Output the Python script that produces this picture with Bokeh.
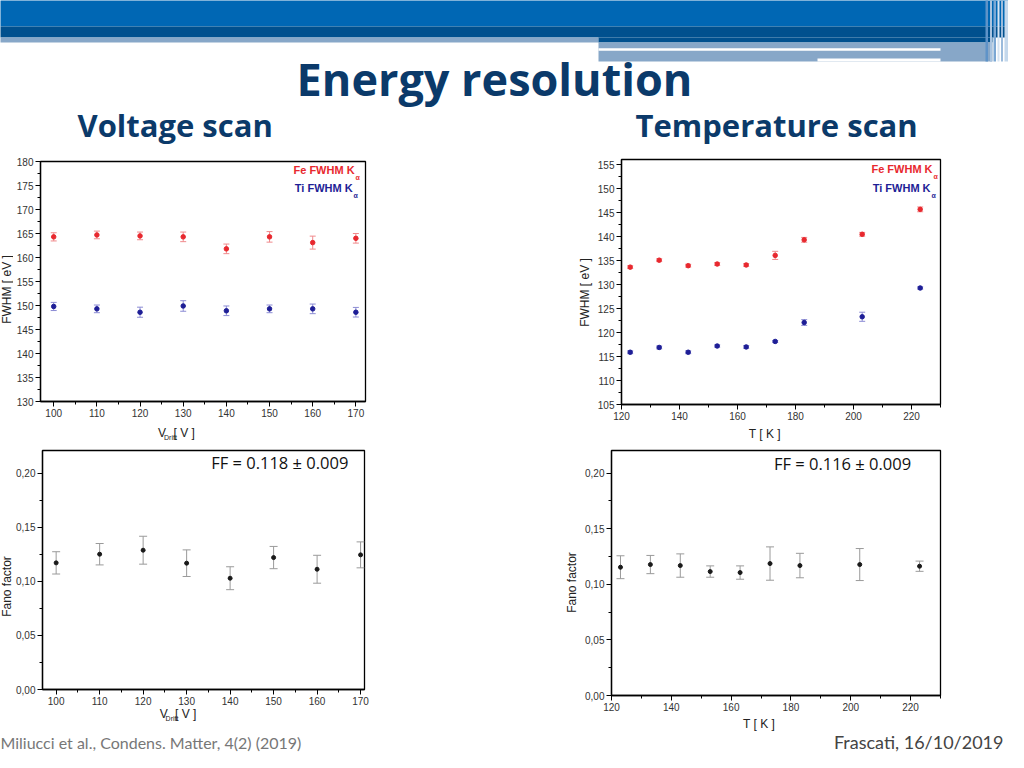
from math import pi
from bokeh.plotting import figure
from bokeh.models import (Range1d, FixedTicker, CustomJSTickFormatter, Label,
                          Whisker, TeeHead, ColumnDataSource)
from bokeh.layouts import column, row
from bokeh.embed import file_html
from bokeh.resources import INLINE
from bokeh.core.properties import value

# ---------------- data ----------------
voltage = [100, 110, 120, 130, 140, 150, 160, 170]
fe_fwhm_v = [164.3, 164.7, 164.5, 164.3, 161.8, 164.3, 163.1, 164.0]
fe_fwhm_v_err = [0.85, 0.8, 0.8, 1.0, 1.0, 1.1, 1.35, 1.0]
ti_fwhm_v = [149.8, 149.3, 148.6, 149.9, 148.9, 149.3, 149.3, 148.6]
ti_fwhm_v_err = [0.85, 0.8, 1.05, 1.1, 1.0, 0.8, 1.0, 1.0]

temperature = [123, 133, 143, 153, 163, 173, 183, 203, 223]
fe_fwhm_t = [133.65, 135.1, 133.95, 134.3, 134.1, 136.1, 139.35, 140.5, 145.7]
fe_fwhm_t_err = [0.3, 0.3, 0.3, 0.3, 0.3, 0.85, 0.5, 0.4, 0.5]
ti_fwhm_t = [115.9, 116.9, 115.9, 117.2, 117.0, 118.15, 122.1, 123.3, 129.3]
ti_fwhm_t_err = [0.3, 0.3, 0.3, 0.25, 0.3, 0.2, 0.6, 0.95, 0.25]

fano_v = [0.1171, 0.1251, 0.1288, 0.1168, 0.1029, 0.1220, 0.1112, 0.1245]
fano_v_err = [0.0103, 0.0099, 0.0129, 0.0123, 0.0106, 0.0103, 0.0129, 0.0120]
fano_t = [0.1154, 0.1178, 0.1169, 0.1115, 0.1106, 0.1187, 0.1169, 0.1178, 0.1163]
fano_t_err = [0.0103, 0.0082, 0.0105, 0.0051, 0.0060, 0.0150, 0.0110, 0.0144, 0.0046]

volt_ticks = [100, 110, 120, 130, 140, 150, 160, 170]
volt_minor = [95, 105, 115, 125, 135, 145, 155, 165]
temp_ticks = [120, 140, 160, 180, 200, 220]
temp_minor = [130, 150, 170, 190, 210, 230]
fwhm_v_ticks = [130, 135, 140, 145, 150, 155, 160, 165, 170, 175, 180]
fwhm_v_minor = [132.5, 137.5, 142.5, 147.5, 152.5, 157.5, 162.5, 167.5, 172.5, 177.5]
fwhm_t_ticks = [105, 110, 115, 120, 125, 130, 135, 140, 145, 150, 155]
fwhm_t_minor = [107.5, 112.5, 117.5, 122.5, 127.5, 132.5, 137.5, 142.5, 147.5, 152.5]
fano_ticks = [0.0, 0.05, 0.10, 0.15, 0.20]
fano_minor = [0.025, 0.075, 0.125, 0.175]

title_text = "Energy resolution"
subtitle_left = "Voltage scan"
subtitle_right = "Temperature scan"
fwhm_label = "FWHM [ eV ]"
fano_label = "Fano factor"
temp_label = "T [ K ]"
ff_v_text = "FF = 0.118 \u00b1 0.009"
ff_t_text = "FF = 0.116 \u00b1 0.009"
footer_left = "Miliucci et al., Condens. Matter, 4(2) (2019)"
footer_right = "Frascati, 16/10/2019"

FE_COLOR = "#e8282e"
FE_ERR = "#f08a8c"
TI_COLOR = "#1e1e96"
TI_ERR = "#8c8cd4"
TITLE_COLOR = "#0b3a6a"
AX_FONT = "Liberation Sans"
LBL_COLOR = "#222222"


class Panel:
    """A plot panel; positions given in slide (reference) pixel coordinates."""

    def __init__(self, width, height, origin, frame, xr, yr):
        ox, oy = origin
        self.L, self.T, self.R, self.B = frame
        self.xr, self.yr = xr, yr
        p = figure(width=width, height=height,
                   x_range=Range1d(*xr), y_range=Range1d(*yr),
                   output_backend="svg", toolbar_location=None,
                   min_border_left=self.L - ox, min_border_right=ox + width - self.R,
                   min_border_top=self.T - oy, min_border_bottom=oy + height - self.B)
        p.grid.visible = False
        p.outline_line_color = "black"
        p.outline_line_width = 1.3
        p.outline_line_alpha = 1.0
        p.background_fill_color = "white"
        p.border_fill_color = "white"
        for ax in (p.xaxis[0], p.yaxis[0]):
            ax.axis_line_color = "black"
            ax.axis_line_width = 1.3
            ax.major_tick_out = 5
            ax.major_tick_in = 0
            ax.minor_tick_out = 3
            ax.minor_tick_in = 0
            ax.major_tick_line_color = "black"
            ax.minor_tick_line_color = "black"
            ax.major_label_text_font = AX_FONT
            ax.major_label_text_font_size = "10px"
            ax.major_label_text_color = "#333333"
            ax.major_label_standoff = 2
        self.p = p

    def to_data(self, rx, ry):
        x = self.xr[0] + (rx - self.L) / (self.R - self.L) * (self.xr[1] - self.xr[0])
        y = self.yr[1] - (ry - self.T) / (self.B - self.T) * (self.yr[1] - self.yr[0])
        return x, y

    def label(self, rx, ry, text, size, color=LBL_COLOR, bold=False, align="left",
              font=AX_FONT):
        x, y = self.to_data(rx, ry)
        self.p.add_layout(Label(x=x, y=y, text=text, text_font=font,
                                text_font_size=f"{size}px", text_color=color,
                                text_font_style="bold" if bold else "normal",
                                text_align=align, text_baseline="middle"))

    def series(self, xs, ys, errs, color, err_color, size=4.5, cap=6):
        up = [y + e for y, e in zip(ys, errs)]
        lo = [y - e for y, e in zip(ys, errs)]
        src = ColumnDataSource(dict(x=xs, y=ys, upper=up, lower=lo))
        w = Whisker(source=src, base="x", upper="upper", lower="lower",
                    line_color=err_color, line_width=1,
                    upper_head=TeeHead(size=cap, line_color=err_color, line_width=1),
                    lower_head=TeeHead(size=cap, line_color=err_color, line_width=1))
        self.p.add_layout(w)
        self.p.scatter("x", "y", source=src, marker="circle", size=size,
                       fill_color=color, line_color=color)

    def ticks(self, xt, xm, yt, ym):
        self.p.xaxis.ticker = FixedTicker(ticks=xt, minor_ticks=xm)
        self.p.yaxis.ticker = FixedTicker(ticks=yt, minor_ticks=ym)

    def legend_entry(self, rx, ry, text, color):
        self.label(rx, ry, text, 11, color=color, bold=True, align="right")
        self.label(rx + 1, ry + 7.5, "\u03b1", 7, color=color, bold=True)


def strip(x0, x1, y0, y1):
    """A blank canvas whose data coordinates are slide pixels."""
    f = figure(width=x1 - x0, height=y1 - y0, x_range=Range1d(x0, x1),
               y_range=Range1d(y1, y0), output_backend="svg", toolbar_location=None,
               x_axis_type=None, y_axis_type=None, min_border=0)
    f.grid.visible = False
    f.outline_line_color = None
    f.background_fill_color = "white"
    f.border_fill_color = "white"
    return f


def put_text(f, x, y, text, size, color=LBL_COLOR, align="left", angle=0.0,
             font=AX_FONT, bold=False, baseline="middle"):
    f.text(x=[x], y=[y], text=[text], text_align=align, text_baseline=baseline,
           text_font_size=f"{size}px", text_color=color, text_font=value(font),
           text_font_style="bold" if bold else "normal", angle=angle)


def vdrift(f, x, y):
    put_text(f, x, y, "V", 12)
    put_text(f, x + 8.5, y + 4.5, "Drift", 7)
    put_text(f, x + 22, y, "[ V ]", 12)


# ---------------- header ----------------
header = strip(8, 1016, 8, 160)
band_left = [0, 0, 0, 606, 606, 606, 825]
band_right = [1024, 1024, 606, 1000, 1000, 948, 948]
band_top = [0, 34, 45, 45, 50, 55.7, 66]
band_bottom = [34, 45, 50, 50, 69, 58.3, 69]
band_color = ["#0067b4", "#00508e", "#87a7c8", "#00508e", "#87a7c8", "#ffffff", "#ffffff"]
header.quad(left=band_left, right=band_right, top=band_top, bottom=band_bottom,
            fill_color=band_color, line_color=None)
stripe_left = [993, 997.5, 1001, 1005, 1008.5, 1012]
stripe_right = [995.5, 999.5, 1003.5, 1007, 1010.5, 1016]
stripe_color = ["#5f93c8", "#a9c4e0", "#7ba7d3", "#d6e4f2", "#9bbbdc", "#c4d8ec"]
header.quad(left=stripe_left, right=stripe_right, top=[0] * 6, bottom=[69] * 6,
            fill_color=stripe_color, line_color=None)
put_text(header, 502, 86, title_text, 45, color=TITLE_COLOR, align="center",
         font="Open Sans", bold=True, baseline="alphabetic")
put_text(header, 85, 132, subtitle_left, 31, color=TITLE_COLOR,
         font="Open Sans", bold=True, baseline="alphabetic")
put_text(header, 643, 132, subtitle_right, 31, color=TITLE_COLOR,
         font="Open Sans", bold=True, baseline="alphabetic")

# ---------------- panel 1: FWHM vs voltage ----------------
p1 = Panel(459, 274, (21, 160), (45, 169, 373, 409), (96.94, 172.23), (130, 180))
p1.ticks(volt_ticks, volt_minor, fwhm_v_ticks, fwhm_v_minor)
p1.series(voltage, fe_fwhm_v, fe_fwhm_v_err, FE_COLOR, FE_ERR)
p1.series(voltage, ti_fwhm_v, ti_fwhm_v_err, TI_COLOR, TI_ERR)
p1.legend_entry(362, 177, "Fe FWHM K", FE_COLOR)
p1.legend_entry(360, 195, "Ti FWHM K", TI_COLOR)
ylab1 = strip(8, 21, 160, 450)
put_text(ylab1, 14, 297, fwhm_label, 12, align="center", angle=pi / 2)
xlab1 = strip(21, 480, 434, 450)
vdrift(xlab1, 187, 440)

# ---------------- panel 2: FWHM vs temperature ----------------
p2 = Panel(414, 274, (602, 160), (627, 167, 948, 412), (120, 230), (105, 156.1))
p2.ticks(temp_ticks, temp_minor, fwhm_t_ticks, fwhm_t_minor)
p2.series(temperature, fe_fwhm_t, fe_fwhm_t_err, FE_COLOR, FE_ERR)
p2.series(temperature, ti_fwhm_t, ti_fwhm_t_err, TI_COLOR, TI_ERR)
p2.legend_entry(940, 176, "Fe FWHM K", FE_COLOR)
p2.legend_entry(938, 195, "Ti FWHM K", TI_COLOR)
ylab2 = strip(480, 602, 160, 450)
put_text(ylab2, 592, 300, fwhm_label, 12, align="center", angle=pi / 2)
xlab2 = strip(602, 1016, 434, 450)
put_text(xlab2, 788, 441, temp_label, 12, align="center")

fano_fmt = "return tick.toFixed(2).replace('.', ',');"

# ---------------- panel 3: Fano vs voltage ----------------
p3 = Panel(459, 265, (21, 450), (49, 458, 372, 697), (96.86, 170.9), (0, 0.221))
p3.ticks(volt_ticks, volt_minor, fano_ticks, fano_minor)
p3.p.yaxis.formatter = CustomJSTickFormatter(code=fano_fmt)
p3.series(voltage, fano_v, fano_v_err, "#1a1a1a", "#9a9a9a", size=4, cap=8)
p3.label(287, 470, ff_v_text, 16.5, color="#111111", align="center", font="Open Sans")
ylab3 = strip(8, 21, 450, 740)
put_text(ylab3, 14, 594, fano_label, 12, align="center", angle=pi / 2)
xlab3 = strip(21, 480, 715, 740)
vdrift(xlab3, 188, 721)

# ---------------- panel 4: Fano vs temperature ----------------
p4 = Panel(428, 272, (588, 450), (619, 458, 948, 703), (120, 230), (0, 0.2204))
p4.ticks(temp_ticks, temp_minor, fano_ticks, fano_minor)
p4.p.yaxis.formatter = CustomJSTickFormatter(code=fano_fmt)
p4.series(temperature, fano_t, fano_t_err, "#1a1a1a", "#9a9a9a", size=4, cap=8)
p4.label(850, 471, ff_t_text, 16.5, color="#111111", align="center", font="Open Sans")
ylab4 = strip(480, 588, 450, 740)
put_text(ylab4, 579, 590, fano_label, 12, align="center", angle=pi / 2)
xlab4 = strip(588, 1016, 722, 740)
put_text(xlab4, 780, 731, temp_label, 12, align="center")

# ---------------- footer ----------------
footer = strip(8, 1016, 740, 760)
put_text(footer, 8, 750, footer_left, 16, color="#777777", font="Lato")
put_text(footer, 1011, 749, footer_right, 18, color="#444444", align="right",
         font="Lato")

top = row(row(ylab1, column(p1.p, xlab1)), row(ylab2, column(p2.p, xlab2)))
bottom = row(row(ylab3, column(p3.p, xlab3)), row(ylab4, column(p4.p, xlab4)))
layout = column(header, top, bottom, footer)
open("out.html", "w").write(file_html(layout, INLINE))
